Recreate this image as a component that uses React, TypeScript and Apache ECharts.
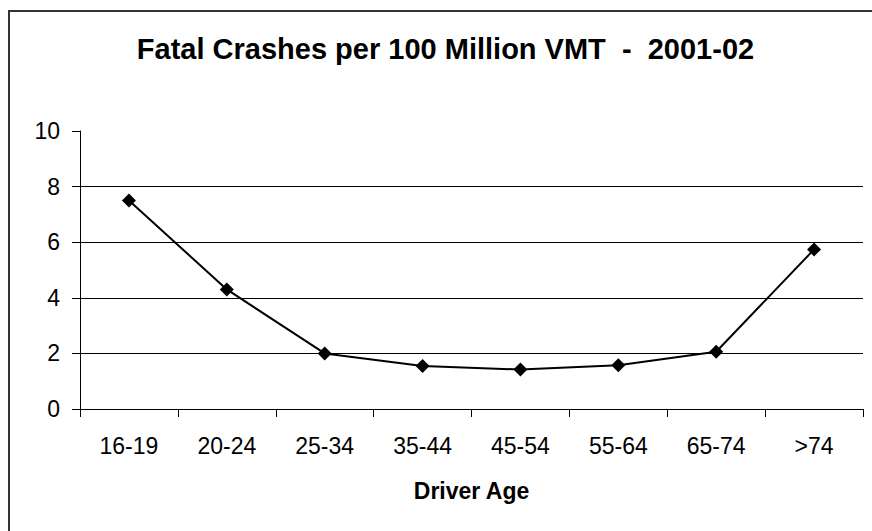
import React, { useEffect, useRef } from "react";
import * as echarts from "echarts";

const titleText = "Fatal Crashes per 100 Million VMT  -  2001-02";
const xAxisTitle = "Driver Age";
const ageGroups = ["16-19", "20-24", "25-34", "35-44", "45-54", "55-64", "65-74", ">74"];
const fatalRates = [7.5, 4.3, 2.0, 1.55, 1.42, 1.57, 2.06, 5.74];
const yMin = 0;
const yMax = 10;
const yInterval = 2;

const FONT = '"Liberation Sans", Arial, sans-serif';

export default function App() {
  const ref = useRef<HTMLDivElement>(null);
  useEffect(() => {
    if (!ref.current) return;
    const chart = echarts.init(ref.current, undefined, { renderer: "svg" });
    chart.setOption({
      animation: false,
      backgroundColor: "#ffffff",
      graphic: [
        {
          type: "rect",
          shape: { x: 9, y: 11, width: 900, height: 600 },
          style: { fill: "none", stroke: "#333333", lineWidth: 2 },
          silent: true,
        },
        {
          type: "text",
          x: 445.5,
          y: 49,
          style: {
            text: titleText,
            font: `bold 29px ${FONT}`,
            fill: "#000",
            textAlign: "center",
            textVerticalAlign: "middle",
          },
        },
      ],
      grid: { left: 80, right: 9, top: 131, bottom: 122, containLabel: false },
      xAxis: {
        type: "category",
        data: ageGroups,
        boundaryGap: true,
        name: xAxisTitle,
        nameLocation: "middle",
        nameGap: 70,
        nameTextStyle: { fontFamily: FONT, fontSize: 23, fontWeight: "bold", color: "#000" },
        axisLine: { show: true, lineStyle: { color: "#000", width: 1 } },
        axisTick: { show: true, alignWithLabel: false, length: 8, lineStyle: { color: "#000" } },
        axisLabel: { fontFamily: FONT, fontSize: 23, color: "#000", margin: 25, interval: 0 },
        splitLine: { show: false },
      },
      yAxis: {
        type: "value",
        min: yMin,
        max: yMax,
        interval: yInterval,
        axisLine: { show: true, lineStyle: { color: "#000", width: 1 } },
        axisTick: { show: true, length: 8, lineStyle: { color: "#000" } },
        axisLabel: { fontFamily: FONT, fontSize: 23, color: "#000", margin: 20 },
        splitLine: { show: true, showMaxLine: false, lineStyle: { color: "#000", width: 1 } },
      },
      series: [
        {
          type: "line",
          data: fatalRates,
          symbol: "diamond",
          symbolSize: 14,
          showAllSymbol: true,
          lineStyle: { color: "#000", width: 2 },
          itemStyle: { color: "#000" },
        },
      ],
    });
    return () => chart.dispose();
  }, []);
  return (
    <div
      ref={ref}
      style={{ position: "fixed", left: 0, top: 0, width: 872, height: 531, background: "#fff" }}
    />
  );
}
